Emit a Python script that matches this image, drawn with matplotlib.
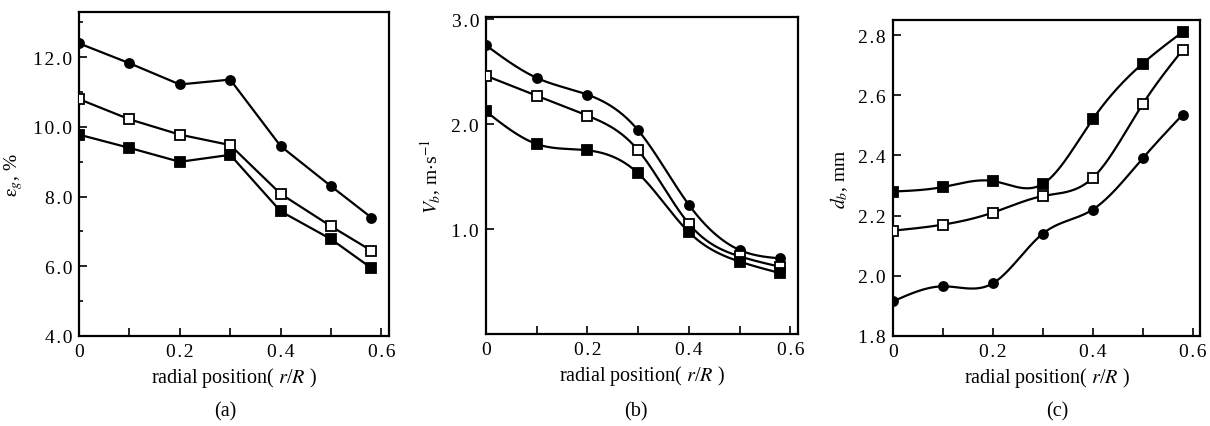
import numpy as np
import matplotlib
matplotlib.use("Agg")
import matplotlib.pyplot as plt
from matplotlib.ticker import MultipleLocator, FixedLocator, FuncFormatter

plt.rcParams['font.family'] = ['Liberation Serif', 'DejaVu Serif']
plt.rcParams['mathtext.fontset'] = 'stix'

# ---- data ----
r_pos = [0.0, 0.1, 0.2, 0.3, 0.4, 0.5, 0.58]

# (a) gas holdup, %
eg_circle = [12.4, 11.83, 11.22, 11.36, 9.45, 8.3, 7.4]
eg_open = [10.8, 10.22, 9.78, 9.48, 8.08, 7.15, 6.45]
eg_filled = [9.78, 9.4, 9.0, 9.2, 7.58, 6.78, 5.95]

# (b) bubble velocity, m/s
vb_circle = [2.75, 2.44, 2.28, 1.94, 1.23, 0.8, 0.72]
vb_open = [2.46, 2.27, 2.08, 1.75, 1.05, 0.74, 0.64]
vb_filled = [2.12, 1.81, 1.75, 1.53, 0.97, 0.69, 0.58]

# (c) bubble diameter, mm
db_filled = [2.28, 2.295, 2.315, 2.305, 2.52, 2.705, 2.81]
db_open = [2.15, 2.17, 2.21, 2.265, 2.325, 2.57, 2.75]
db_circle = [1.915, 1.965, 1.975, 2.14, 2.22, 2.39, 2.535]

x_ticklabels = ['0', '0.2', '0.4', '0.6']

HS = '\u200a'  # hair space for the wide letter spacing of the original


def spaced(s):
    return HS.join(s)


def smooth(x, y, n=300):
    """Natural cubic spline through the data points (for drawing the line)."""
    x = np.asarray(x, float)
    y = np.asarray(y, float)
    m = len(x)
    h = np.diff(x)
    A = np.zeros((m, m))
    b = np.zeros(m)
    A[0, 0] = 1.0
    A[-1, -1] = 1.0
    for i in range(1, m - 1):
        A[i, i - 1] = h[i - 1]
        A[i, i] = 2 * (h[i - 1] + h[i])
        A[i, i + 1] = h[i]
        b[i] = 6 * ((y[i + 1] - y[i]) / h[i] - (y[i] - y[i - 1]) / h[i - 1])
    M = np.linalg.solve(A, b)
    xs = np.linspace(x[0], x[-1], n)
    idx = np.clip(np.searchsorted(x, xs) - 1, 0, m - 2)
    x0, x1 = x[idx], x[idx + 1]
    hh = x1 - x0
    t0 = x1 - xs
    t1 = xs - x0
    ys = (M[idx] * t0 ** 3 / (6 * hh) + M[idx + 1] * t1 ** 3 / (6 * hh)
          + (y[idx] / hh - M[idx] * hh / 6) * t0
          + (y[idx + 1] / hh - M[idx + 1] * hh / 6) * t1)
    return xs, ys


W, H = 1210, 427
fig = plt.figure(figsize=(W / 100, H / 100), dpi=100)


def make_axes(l, r, t, b):
    return fig.add_axes([l / W, 1 - b / H, (r - l) / W, (b - t) / H])


axA = make_axes(79, 389, 13, 337)
axB = make_axes(486, 798, 18, 335)
axC = make_axes(893, 1200, 21, 337)

lw = 1.6
ms_c = 6.5
ms_s = 7.5


def draw(ax, y, marker, face, smooth_line):
    if smooth_line:
        xs, ys = smooth(r_pos, y)
        ax.plot(xs, ys, '-', color='black', lw=lw, zorder=2)
    else:
        ax.plot(r_pos, y, '-', color='black', lw=lw, zorder=2)
    ms = ms_c if marker == 'o' else ms_s
    ax.plot(r_pos, y, linestyle='none', marker=marker, ms=ms,
            mfc=face, mec='black', mew=1.3, zorder=3)


draw(axA, eg_circle, 'o', 'black', False)
draw(axA, eg_open, 's', 'white', False)
draw(axA, eg_filled, 's', 'black', False)

draw(axB, vb_circle, 'o', 'black', True)
draw(axB, vb_open, 's', 'white', True)
draw(axB, vb_filled, 's', 'black', True)

draw(axC, db_filled, 's', 'black', True)
draw(axC, db_open, 's', 'white', True)
draw(axC, db_circle, 'o', 'black', True)

yfmt = FuncFormatter(lambda v, p: spaced('%.1f' % v))

for ax in (axA, axB, axC):
    ax.set_xlim(0, 0.615)
    ax.xaxis.set_major_locator(FixedLocator([0.0, 0.2, 0.4, 0.6]))
    ax.set_xticklabels([spaced(s) for s in x_ticklabels])
    ax.xaxis.set_minor_locator(FixedLocator([0.1, 0.3, 0.5]))
    ax.tick_params(which='both', direction='in', top=False, right=False,
                   width=1.2, labelsize=14)
    ax.tick_params(which='major', length=6, pad=5)
    ax.tick_params(which='minor', length=6)
    for s in ax.spines.values():
        s.set_linewidth(1.6)
    ax.set_xlabel('radial position( $r$/$R$ )', fontsize=14.5, labelpad=4)
    ax.yaxis.set_major_formatter(yfmt)

axA.set_ylim(4.0, 13.3)
axA.yaxis.set_major_locator(MultipleLocator(2.0))
axA.yaxis.set_minor_locator(MultipleLocator(1.0))
axA.tick_params(axis='y', which='minor', length=3)
axA.set_ylabel(r'$\mathrm{\varepsilon}_g$, %', fontsize=14, labelpad=6)

axB.set_ylim(0.0, 3.02)
axB.yaxis.set_major_locator(FixedLocator([1.0, 2.0, 3.0]))
axB.yaxis.set_minor_locator(FixedLocator([]))
axB.set_ylabel(r'$V_b$, m$\cdot$s$^{-1}$', fontsize=14, labelpad=6)

axC.set_ylim(1.8, 2.85)
axC.yaxis.set_major_locator(MultipleLocator(0.2))
axC.yaxis.set_minor_locator(FixedLocator([]))
axC.set_ylabel(r'$d_b$, mm', fontsize=14, labelpad=6)

for ax, lab, xc in ((axA, '(a)', 225), (axB, '(b)', 636), (axC, '(c)', 1057)):
    fig.text(xc / W, 1 - 412 / H, lab, ha='center', va='center', fontsize=14.5)

fig.savefig('out.png', dpi=100)
